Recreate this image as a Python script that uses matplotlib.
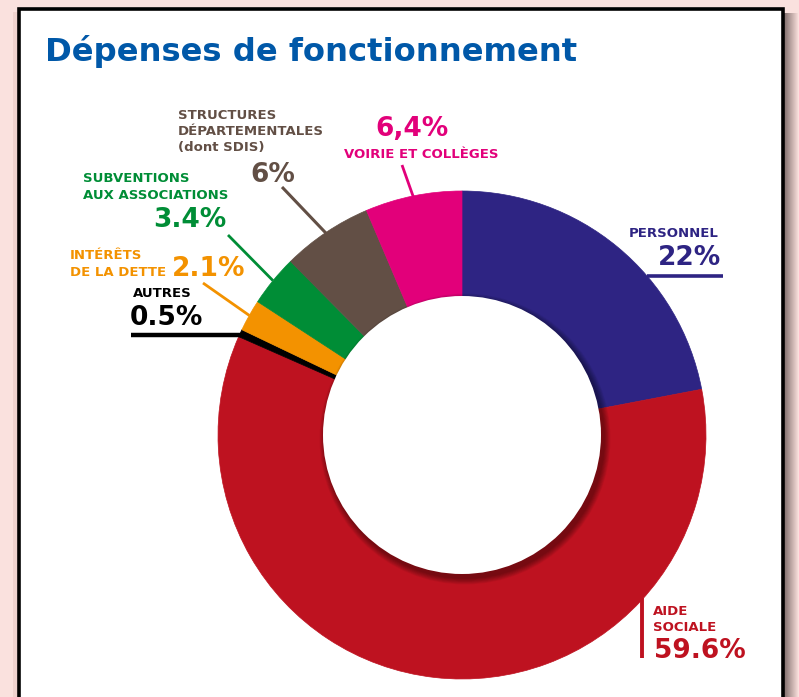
import matplotlib
matplotlib.use("Agg")
import matplotlib.pyplot as plt
from matplotlib.patches import Rectangle, Circle
import numpy as np

# ---------------- data ----------------
categories = ["PERSONNEL", "AIDE SOCIALE", "AUTRES", "INTÉRÊTS DE LA DETTE",
              "SUBVENTIONS AUX ASSOCIATIONS",
              "STRUCTURES DÉPARTEMENTALES (dont SDIS)", "VOIRIE ET COLLÈGES"]
values = [22.0, 59.6, 0.5, 2.1, 3.4, 6.0, 6.4]
value_labels = ["22%", "59.6%", "0.5%", "2.1%", "3.4%", "6%", "6,4%"]
colors = ["#2e2483", "#be1220", "#000000", "#f39200", "#008d36", "#624f45", "#e2007a"]
title = "Dépenses de fonctionnement"

# ---------------- layout ----------------
W, H = 799, 697
FONT = ["DejaVu Sans"]
BG = "#fae1de"

fig = plt.figure(figsize=(W / 100, H / 100), dpi=100, facecolor=BG)
ax = fig.add_axes([0, 0, 1, 1])


def Y(y):
    return H - y


# background frame
ax.add_patch(Rectangle((0, 0), W, H, facecolor=BG, edgecolor="none", zorder=0))
# right shadow gradient
c0 = np.array(matplotlib.colors.to_rgb("#7a6866"))
c1 = np.array(matplotlib.colors.to_rgb("#f2d8d5"))
for i in range(15):
    t = i / 14
    ax.add_patch(Rectangle((783 + i, -5), 1.05, Y(13) + 5,
                           facecolor=tuple(c0 * (1 - t) + c1 * t),
                           edgecolor="none", zorder=0.2))
# faint left shadow
ax.add_patch(Rectangle((13, -5), 5, Y(12) + 5, facecolor="#efd2ce",
                       edgecolor="none", zorder=0.2))
# white card with black border
ax.add_patch(Rectangle((18.5, -20), 764, Y(8.5) + 20, facecolor="white",
                       edgecolor="black", linewidth=2.6, zorder=0.5))

# ---------------- donut ----------------
CX, CY, R, RIN = 462, Y(435), 244, 139
wedges, _ = ax.pie(values, colors=colors, startangle=90, counterclock=False,
                   radius=R, center=(CX, CY), wedgeprops=dict(linewidth=0.5))
for w, c in zip(wedges, colors):
    w.set_zorder(2)
    w.set_edgecolor(c)

# soft inner shadow (bottom-right)
for k in range(8):
    ax.add_patch(Circle((CX + 3, CY - 4), RIN + 0.8 * (8 - k),
                        facecolor="black", alpha=0.055, edgecolor="none", zorder=3))
ax.add_patch(Circle((CX, CY), RIN, facecolor="white", edgecolor="none", zorder=4))

ax.set_aspect("auto")
ax.set_xlim(0, W)
ax.set_ylim(0, H)
ax.axis("off")


def edge_point(i, rr=R):
    w = wedges[i]
    a = np.deg2rad((w.theta1 + w.theta2) / 2)
    return w.center[0] + rr * np.cos(a), w.center[1] + rr * np.sin(a)


def txt(x, y, s, color, size, ha="left", weight="bold", ls=1.2):
    ax.text(x, Y(y), s, color=color, fontsize=size, ha=ha, va="baseline",
            fontweight=weight, family=FONT, zorder=6, linespacing=ls)


def line(p0, p1, color, lw):
    ax.plot([p0[0], p1[0]], [p0[1], p1[1]], color=color, lw=lw,
            solid_capstyle="butt", zorder=5)


SMALL = 9.5
BIG = 19

# title
txt(45, 61, title, "#0058a8", 23.2)

# PERSONNEL
txt(719, 237, "PERSONNEL", colors[0], SMALL, ha="right")
txt(721, 265, value_labels[0], colors[0], BIG, ha="right")
ux = CX + np.sqrt(R ** 2 - (CY - Y(276)) ** 2)
line((ux, Y(276)), (723, Y(276)), colors[0], 2.6)

# AIDE SOCIALE
txt(653, 615, "AIDE", colors[1], SMALL)
txt(653, 631, "SOCIALE", colors[1], SMALL)
txt(654, 658, value_labels[1], colors[1], BIG)
line((642, Y(598)), (642, Y(658)), colors[1], 2.8)

# AUTRES
txt(133, 297, "AUTRES", colors[2], SMALL)
txt(130, 325, value_labels[2], colors[2], BIG)
ex, ey = edge_point(2)
line((131, ey - 2), (ex + 3, ey - 2), colors[2], 3.2)

# INTERETS
txt(70, 259, "INTÉRÊTS", colors[3], SMALL)
txt(70, 276, "DE LA DETTE", colors[3], SMALL)
txt(172, 276, value_labels[3], colors[3], BIG)
line((203, Y(283)), edge_point(3), colors[3], 2.0)

# SUBVENTIONS
txt(83, 182, "SUBVENTIONS", colors[4], SMALL)
txt(83, 199, "AUX ASSOCIATIONS", colors[4], SMALL)
txt(226, 227, value_labels[4], colors[4], BIG, ha="right")
line((228, Y(235)), edge_point(4), colors[4], 2.0)

# STRUCTURES
txt(178, 119, "STRUCTURES", colors[5], SMALL)
txt(178, 135, "DÉPARTEMENTALES", colors[5], SMALL)
txt(178, 151, "(dont SDIS)", colors[5], SMALL)
txt(250, 182, value_labels[5], colors[5], BIG)
line((282, Y(187)), edge_point(5, R - 4), colors[5], 2.2)

# VOIRIE
txt(412, 136, value_labels[6], colors[6], BIG, ha="center")
txt(421, 158, "VOIRIE ET COLLÈGES", colors[6], SMALL, ha="center")
line((402, Y(165)), edge_point(6, R - 2), colors[6], 2.0)

fig.savefig("out.png", dpi=100, facecolor=BG)
